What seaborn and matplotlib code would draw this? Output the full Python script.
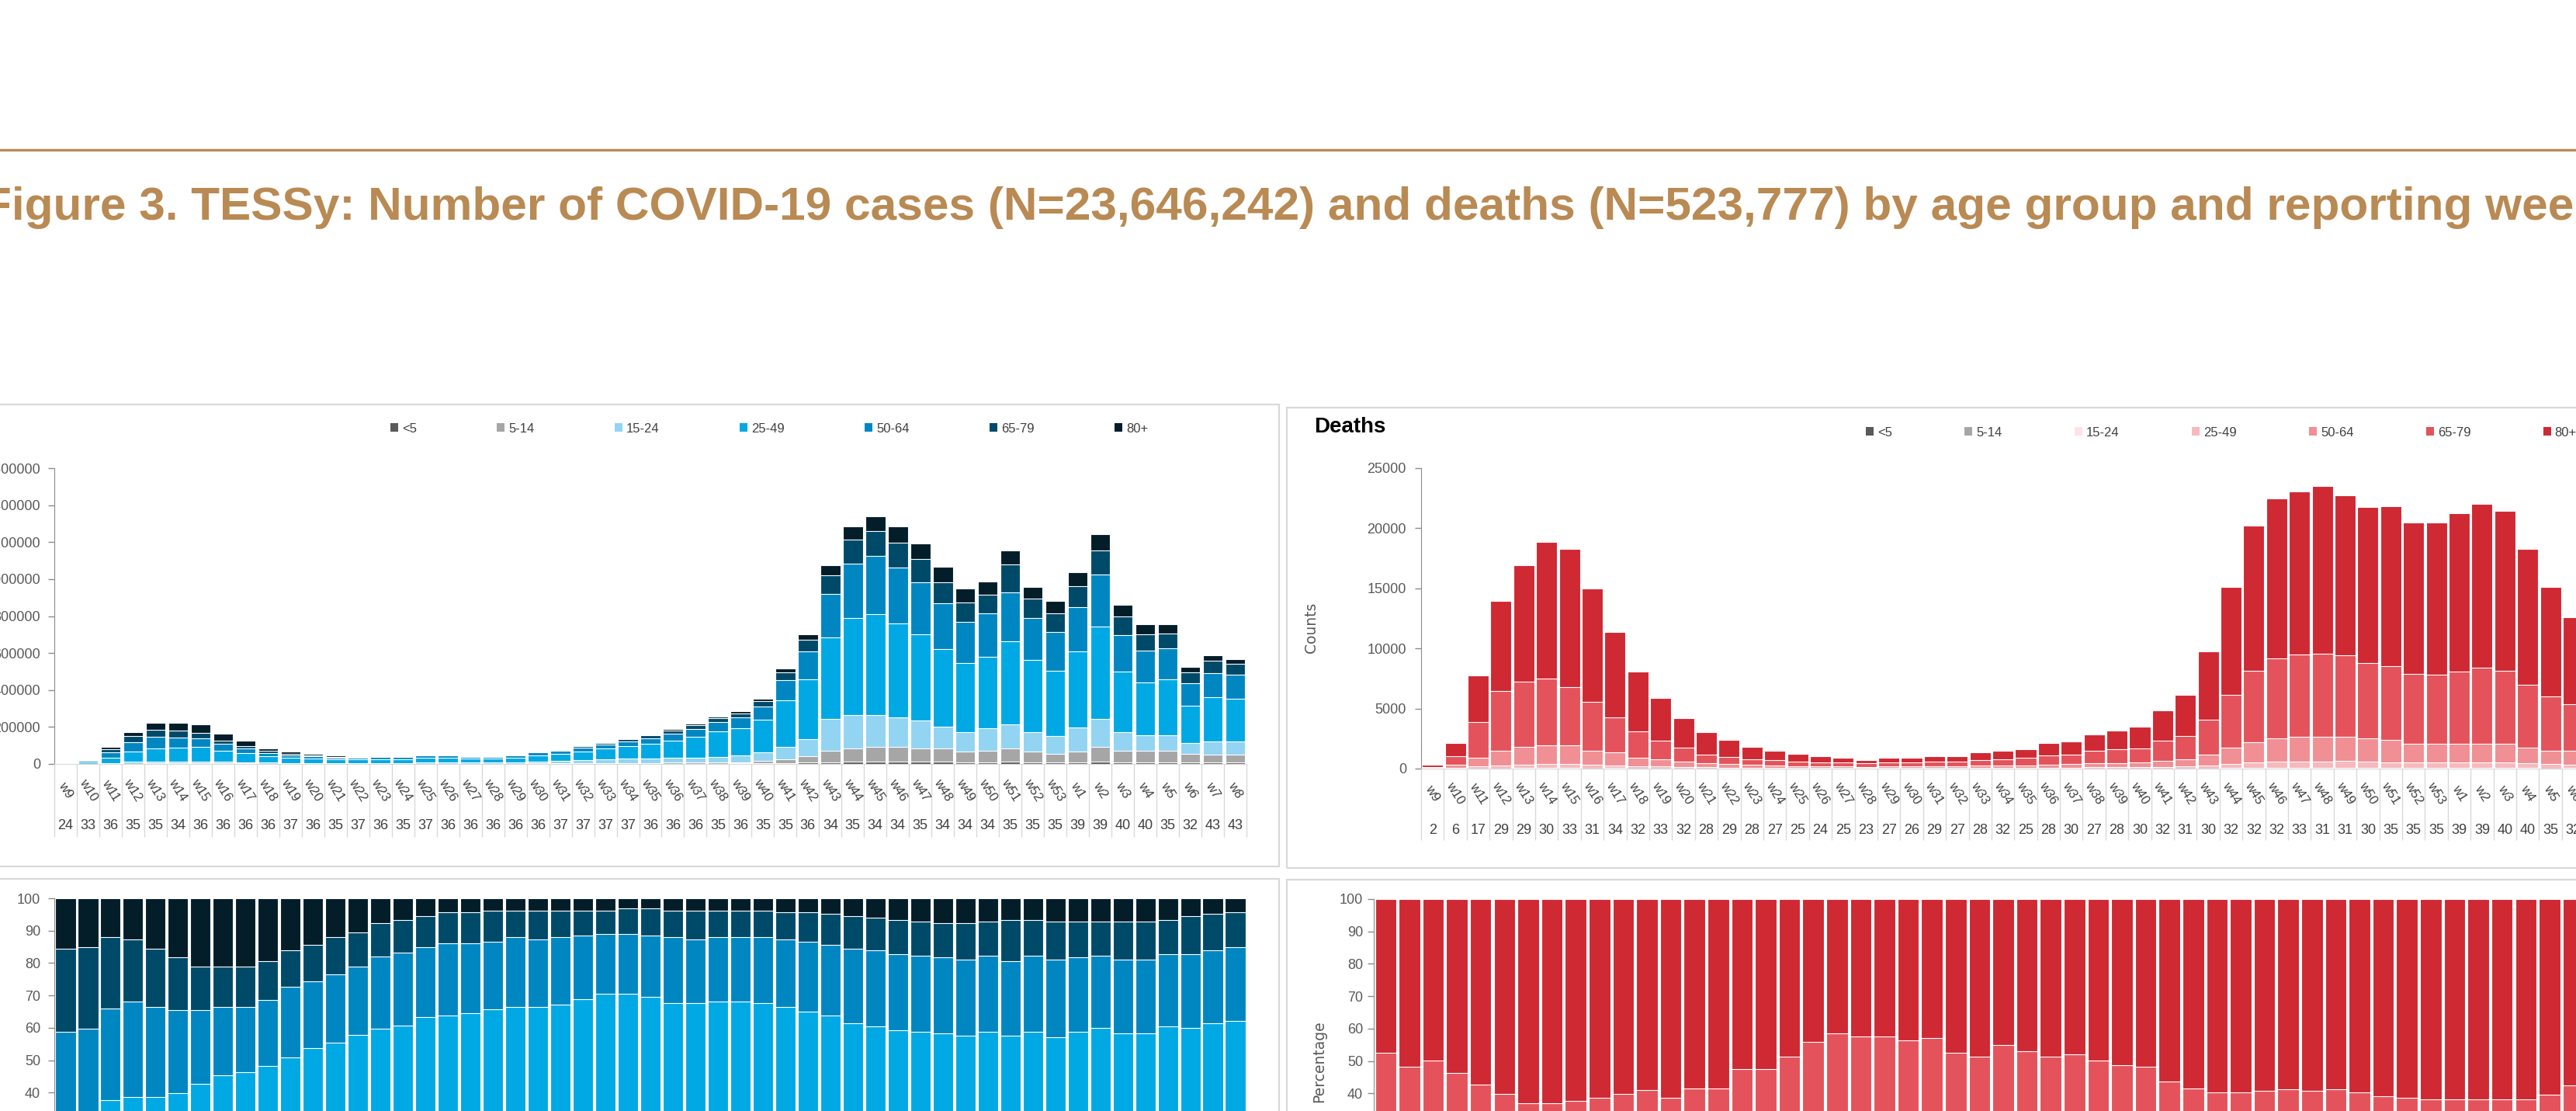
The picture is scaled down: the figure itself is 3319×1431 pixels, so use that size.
import numpy as np
import seaborn as sns
import matplotlib.pyplot as plt
import matplotlib.transforms as mtransforms
from matplotlib.patches import Rectangle, Patch
from matplotlib.lines import Line2D

# ---- data ----
weeks = [f'w{i}' for i in range(9, 54)] + [f'w{i}' for i in range(1, 9)]
age_groups = ['<5', '5-14', '15-24', '25-49', '50-64', '65-79', '80+']

cases_total = [2000, 25000, 93000, 173000, 221000, 221000, 214000, 162000, 125000, 86000,
               66000, 56000, 45000, 44000, 44000, 44000, 53000, 53000, 44000, 44000,
               53000, 71000, 80500, 100000, 119000, 138000, 159000, 188000, 217000, 256000,
               285000, 354000, 518000, 703000, 1075000, 1283000, 1339000, 1283000, 1194000, 1066000,
               948000, 988000, 1154000, 959000, 880000, 1037000, 1243000, 860000, 755000, 755000,
               526000, 588000, 568000]
cases_countries = [24, 33, 36, 35, 35, 34, 36, 36, 36, 36, 37, 36, 35, 37, 36, 35, 37, 36, 36, 36,
                   36, 36, 37, 37, 37, 37, 36, 36, 36, 35, 36, 35, 35, 36, 34, 35, 34, 34, 35, 34,
                   34, 34, 35, 35, 35, 39, 39, 40, 40, 35, 32, 43, 43]

# cumulative % from the bottom up to the top of each age group (80+ tops at 100)
cases_cum_lt5 = [0.4, 0.4, 0.3, 0.3, 0.3, 0.3, 0.4, 0.4, 0.4, 0.5,
                 0.5, 0.5, 0.5, 0.6, 0.6, 0.6, 0.6, 0.6, 0.6, 0.6,
                 0.6, 0.6, 0.6, 0.6, 0.7, 0.7, 0.7, 0.8, 0.8, 0.8,
                 0.8, 0.8, 0.8, 0.9, 0.9, 0.9, 0.9, 0.9, 0.9, 1.0,
                 1.0, 1.0, 1.0, 1.0, 1.0, 1.0, 1.1, 1.2, 1.3, 1.3,
                 1.4, 1.3, 1.3]
cases_cum_514 = [1.2, 1.0, 0.9, 1.0, 1.0, 1.1, 1.3, 1.5, 1.7, 1.9,
                 2.1, 2.2, 2.4, 2.5, 2.6, 2.7, 2.8, 2.9, 3.0, 3.1,
                 3.1, 3.2, 3.2, 3.3, 3.3, 3.4, 3.5, 3.5, 3.5, 3.5,
                 3.5, 4.8, 4.5, 6.2, 6.7, 6.4, 6.8, 7.1, 6.9, 7.7,
                 6.9, 7.3, 7.2, 6.8, 6.1, 6.3, 7.6, 8.4, 9.5, 9.5,
                 10.2, 8.8, 9.2]
cases_cum_1524 = [5.5, 6.0, 6.0, 6.1, 6.0, 6.2, 6.5, 7.0, 7.6, 8.1,
                  9.2, 10.1, 11.3, 12.0, 13.4, 14.1, 15.2, 16.3, 17.1, 18.2,
                  19.0, 20.1, 20.8, 21.2, 21.0, 20.0, 19.0, 17.2, 16.1, 15.5,
                  16.0, 18.0, 18.2, 19.0, 22.6, 20.6, 19.7, 19.8, 19.7, 19.0,
                  18.3, 19.5, 18.6, 18.1, 17.3, 18.9, 19.6, 20.2, 20.5, 20.5,
                  21.5, 20.9, 21.7]
cases_cum_2549 = [28.0, 30.0, 37.6, 38.6, 38.6, 39.8, 42.6, 45.3, 46.4, 48.3,
                  50.8, 53.7, 55.5, 57.8, 59.8, 60.7, 63.3, 63.8, 64.4, 65.6,
                  66.5, 66.5, 67.2, 68.8, 70.5, 70.5, 69.5, 67.6, 67.6, 68.1,
                  68.1, 67.6, 66.5, 64.9, 63.8, 61.5, 60.5, 59.3, 58.7, 58.2,
                  57.5, 58.7, 57.5, 58.7, 57.1, 58.7, 59.9, 58.3, 58.3, 60.5,
                  59.9, 61.5, 62.1]
cases_cum_5064 = [58.7, 59.8, 66.0, 68.1, 66.5, 65.4, 65.4, 66.5, 66.5, 68.6,
                  72.6, 74.4, 76.6, 78.8, 82.1, 83.3, 85.0, 86.1, 86.1, 86.6,
                  87.9, 87.3, 87.9, 88.4, 89.0, 89.0, 88.4, 87.9, 87.3, 87.9,
                  87.9, 87.9, 87.3, 86.6, 85.7, 84.5, 83.9, 82.8, 82.3, 81.7,
                  81.1, 82.3, 80.6, 82.3, 81.1, 81.7, 82.3, 81.1, 81.1, 82.8,
                  82.8, 83.9, 85.0]
cases_cum_6579 = [84.5, 85.0, 87.9, 87.3, 84.5, 81.7, 78.8, 78.8, 78.8, 80.6,
                  83.9, 85.7, 87.9, 89.5, 92.4, 93.4, 94.5, 95.7, 95.7, 96.2,
                  96.2, 96.2, 96.2, 96.2, 96.2, 96.8, 96.8, 96.2, 96.2, 96.2,
                  96.2, 96.2, 95.7, 95.7, 95.1, 94.5, 94.0, 93.4, 92.8, 92.3,
                  92.3, 92.8, 93.4, 93.4, 92.8, 92.8, 92.8, 92.8, 92.8, 93.4,
                  94.5, 95.1, 95.7]

deaths_total = [300, 2100, 7780, 13930, 16920, 18870, 18280, 14970, 11390, 8100,
                5850, 4200, 3010, 2400, 1800, 1510, 1210, 1040, 890, 740,
                890, 890, 1040, 1040, 1330, 1480, 1630, 2100, 2270, 2840,
                3160, 3460, 4820, 6150, 9760, 15140, 20230, 22480, 23070, 23510,
                22770, 21740, 21860, 20500, 20500, 21270, 22010, 21440, 18280, 15140,
                12600, 11800, 11200]
deaths_countries = [2, 6, 17, 29, 29, 30, 33, 31, 34, 32, 33, 32, 28, 29, 28, 27, 25, 24, 25, 23,
                    27, 26, 29, 27, 28, 32, 25, 28, 30, 27, 28, 30, 32, 31, 30, 32, 32, 32, 33, 31,
                    31, 30, 35, 35, 35, 39, 39, 40, 40, 35, 32, 43, 43]

deaths_cum_lt5 = [0.1, 0.1, 0.0, 0.0, 0.0, 0.0, 0.0, 0.0, 0.0, 0.0,
                  0.0, 0.0, 0.1, 0.1, 0.1, 0.1, 0.1, 0.1, 0.1, 0.1,
                  0.1, 0.1, 0.1, 0.1, 0.1, 0.1, 0.0, 0.0, 0.0, 0.0,
                  0.0, 0.0, 0.0, 0.0, 0.0, 0.0, 0.0, 0.0, 0.0, 0.0,
                  0.0, 0.0, 0.0, 0.0, 0.0, 0.0, 0.0, 0.0, 0.0, 0.0,
                  0.0, 0.0, 0.0]
deaths_cum_514 = [0.2, 0.2, 0.1, 0.1, 0.1, 0.1, 0.1, 0.1, 0.1, 0.1,
                  0.1, 0.1, 0.2, 0.2, 0.2, 0.2, 0.2, 0.2, 0.2, 0.2,
                  0.2, 0.2, 0.2, 0.2, 0.2, 0.2, 0.1, 0.1, 0.1, 0.1,
                  0.1, 0.1, 0.1, 0.1, 0.1, 0.1, 0.1, 0.1, 0.1, 0.1,
                  0.1, 0.1, 0.1, 0.1, 0.1, 0.1, 0.1, 0.1, 0.1, 0.1,
                  0.1, 0.1, 0.1]
deaths_cum_1524 = [0.5, 0.6, 0.3, 0.2, 0.2, 0.2, 0.2, 0.2, 0.3, 0.3,
                   0.3, 0.4, 0.4, 0.5, 0.5, 0.6, 0.6, 0.6, 0.7, 0.7,
                   0.7, 0.6, 0.6, 0.6, 0.5, 0.5, 0.5, 0.4, 0.4, 0.4,
                   0.4, 0.3, 0.3, 0.3, 0.3, 0.3, 0.2, 0.2, 0.2, 0.2,
                   0.2, 0.2, 0.2, 0.2, 0.2, 0.2, 0.2, 0.2, 0.2, 0.2,
                   0.3, 0.3, 0.3]
deaths_cum_2549 = [3.0, 3.5, 2.2, 2.0, 2.0, 1.9, 2.0, 2.0, 2.3, 2.4,
                   2.8, 3.2, 3.6, 3.9, 4.2, 4.4, 4.6, 4.8, 5.0, 5.1,
                   5.0, 4.9, 4.8, 4.6, 4.4, 4.3, 4.1, 3.9, 3.7, 3.5,
                   3.4, 3.2, 3.0, 2.9, 2.8, 2.7, 2.6, 2.6, 2.6, 2.6,
                   2.7, 2.6, 2.5, 2.4, 2.4, 2.3, 2.3, 2.3, 2.4, 2.4,
                   2.6, 2.7, 2.7]
deaths_cum_5064 = [15.0, 16.0, 11.8, 10.7, 10.7, 10.1, 10.5, 10.0, 11.8, 11.3,
                   12.7, 14.2, 15.5, 16.6, 17.4, 18.1, 18.6, 19.2, 19.4, 20.1,
                   19.8, 19.6, 19.0, 18.6, 18.1, 17.4, 17.1, 16.4, 16.0, 15.6,
                   15.1, 14.2, 13.1, 12.4, 12.0, 11.7, 10.8, 11.2, 11.5, 11.3,
                   11.7, 11.5, 10.8, 10.0, 10.0, 9.6, 9.3, 9.5, 9.7, 9.8,
                   11.8, 12.0, 12.1]
deaths_cum_6579 = [52.6, 48.2, 50.2, 46.4, 42.6, 39.8, 37.0, 37.0, 37.6, 38.6,
                   39.8, 41.0, 38.6, 41.4, 41.4, 47.6, 47.6, 51.4, 55.8, 58.6,
                   57.5, 57.5, 56.4, 57.0, 52.6, 51.4, 54.8, 53.0, 51.4, 52.0,
                   50.2, 48.6, 48.2, 43.6, 41.4, 40.4, 40.3, 40.7, 41.3, 40.7,
                   41.3, 40.3, 39.1, 38.5, 38.1, 38.1, 38.1, 38.1, 38.1, 39.6,
                   42.4, 44.0, 45.0]

cases_colors = ['#595959', '#a6a6a6', '#92d4f2', '#00a9e4', '#0087c2', '#004a69', '#031d29']
deaths_colors = ['#595959', '#a6a6a6', '#fde3e5', '#f7b9bd', '#f08f94', '#e4535b', '#cf2933']

title = ('Figure 3. TESSy: Number of COVID-19 cases (N=23,646,242) and deaths '
         '(N=523,777) by age group and reporting week')

cases_cum = [cases_cum_lt5, cases_cum_514, cases_cum_1524, cases_cum_2549, cases_cum_5064, cases_cum_6579]
deaths_cum = [deaths_cum_lt5, deaths_cum_514, deaths_cum_1524, deaths_cum_2549, deaths_cum_5064, deaths_cum_6579]

# ---- drawing ----
sns.set_style('white')
narrow = ['Liberation Sans Narrow', 'Liberation Sans', 'DejaVu Sans']
plt.rcParams['font.family'] = narrow

W, H = 3319, 1431
fig = plt.figure(figsize=(W / 100, H / 100), dpi=100)


def fx(x):
    return x / W


def fy(y):
    return 1 - y / H


def box(l, t, r, b):
    return [fx(l), fy(b), (r - l) / W, (b - t) / H]


# title and rule
fig.add_artist(Line2D([0, 1], [fy(193), fy(193)], transform=fig.transFigure, color='#bb8b56', lw=2.4))
fig.text(fx(-22), fy(283), title, fontsize=43.5, fontweight='bold', color='#b98a53',
         ha='left', va='baseline', family=narrow)

# panel frames
for l, t, r, b in [(-20, 521, 1648, 1116), (1658, 525, 3340, 1118),
                   (-20, 1132, 1648, 1460), (1658, 1133, 3340, 1460)]:
    fig.add_artist(Rectangle((fx(l), fy(b)), (r - l) / W, (b - t) / H, transform=fig.transFigure,
                             fill=False, edgecolor='#d9d9d9', lw=1.6))


def stack(ax, cums, colors, totals=None, width=0.88):
    layers = list(cums) + [[100.0] * len(weeks)]
    for cum, color in zip(layers[::-1], colors[::-1]):
        h = np.array(cum, dtype=float)
        if totals is not None:
            h = np.array(totals, dtype=float) * h / 100
        sns.barplot(x=weeks, y=h, order=weeks, color=color, saturation=1, width=width,
                    edgecolor='white', linewidth=0.8, errorbar=None, ax=ax)


def style(ax, ymax, step, pad):
    ax.set_xlim(-0.5, len(weeks) - 0.5)
    ax.set_ylim(0, ymax)
    ticks = np.arange(0, ymax + 1, step)
    ax.set_yticks(ticks)
    ax.set_yticklabels([str(int(t)) for t in ticks])
    ax.set_xticks([])
    ax.set_xlabel('')
    ax.set_ylabel('')
    ax.tick_params(axis='y', left=True, length=5.5, width=1, color='#8c8c8c', labelsize=13,
                   labelcolor='#595959', pad=pad, direction='out')
    sns.despine(ax=ax, top=True, right=True)
    ax.spines['left'].set_color('#8c8c8c')
    ax.spines['bottom'].set_color('#d9d9d9')
    ax.patch.set_alpha(0)


def table(ax, counts, y_week, y_num, y_end, y_axis):
    tr = mtransforms.blended_transform_factory(ax.transData, fig.transFigure)
    for i, (w, n) in enumerate(zip(weeks, counts)):
        ax.text(i, fy(y_week), w, transform=tr, rotation=-58, rotation_mode='anchor',
                ha='center', va='center', fontsize=12, color='#404040', clip_on=False)
        ax.text(i, fy(y_num), str(n), transform=tr, ha='center', va='center',
                fontsize=13, color='#404040', clip_on=False)
    ax.vlines(np.arange(len(weeks) + 1) - 0.5, fy(y_end), fy(y_axis), transform=tr,
              colors='#d9d9d9', lw=1, clip_on=False)


def legend(colors, x, y, spacing):
    handles = [Patch(facecolor=c, edgecolor='none') for c in colors]
    fig.legend(handles, age_groups, loc='center left', bbox_to_anchor=(fx(x), fy(y)), ncol=7,
               frameon=False, fontsize=12, handlelength=0.6, handleheight=0.6, handletextpad=0.3,
               columnspacing=spacing, borderpad=0, borderaxespad=0, labelcolor='#404040')


# cases counts
ax1 = fig.add_axes(box(70, 603, 1606, 984))
stack(ax1, cases_cum, cases_colors, totals=cases_total)
style(ax1, 1600000, 200000, 7.5)
table(ax1, cases_countries, 1018, 1064, 1078, 984)
legend(cases_colors, 503, 552, 6.2)

# deaths counts
ax2 = fig.add_axes(box(1831, 603, 3389, 990))
stack(ax2, deaths_cum, deaths_colors, totals=deaths_total, width=0.92)
style(ax2, 25000, 5000, 8.2)
table(ax2, deaths_countries, 1022, 1070, 1082, 990)
legend(deaths_colors, 2404, 557, 5.6)
fig.text(fx(1693), fy(550), 'Deaths', fontsize=20, fontweight='bold', color='black',
         ha='left', va='center', family=['Liberation Sans', 'DejaVu Sans'])
fig.text(fx(1690), fy(808), 'Counts', fontsize=13.5, color='#595959', rotation=90,
         ha='center', va='center', family=['DejaVu Sans'])

# cases percentages
ax3 = fig.add_axes(box(70, 1157, 1606, 1574))
stack(ax3, cases_cum, cases_colors, width=0.9)
style(ax3, 100, 10, 7.5)

# deaths percentages
ax4 = fig.add_axes(box(1770, 1158, 3392, 1575))
stack(ax4, deaths_cum, deaths_colors, width=0.9)
style(ax4, 100, 10, 4.6)
fig.text(fx(1700), fy(1367), 'Percentage', fontsize=13.5, color='#595959', rotation=90,
         ha='center', va='center', family=['DejaVu Sans'])

fig.savefig('out.png', dpi=100)
